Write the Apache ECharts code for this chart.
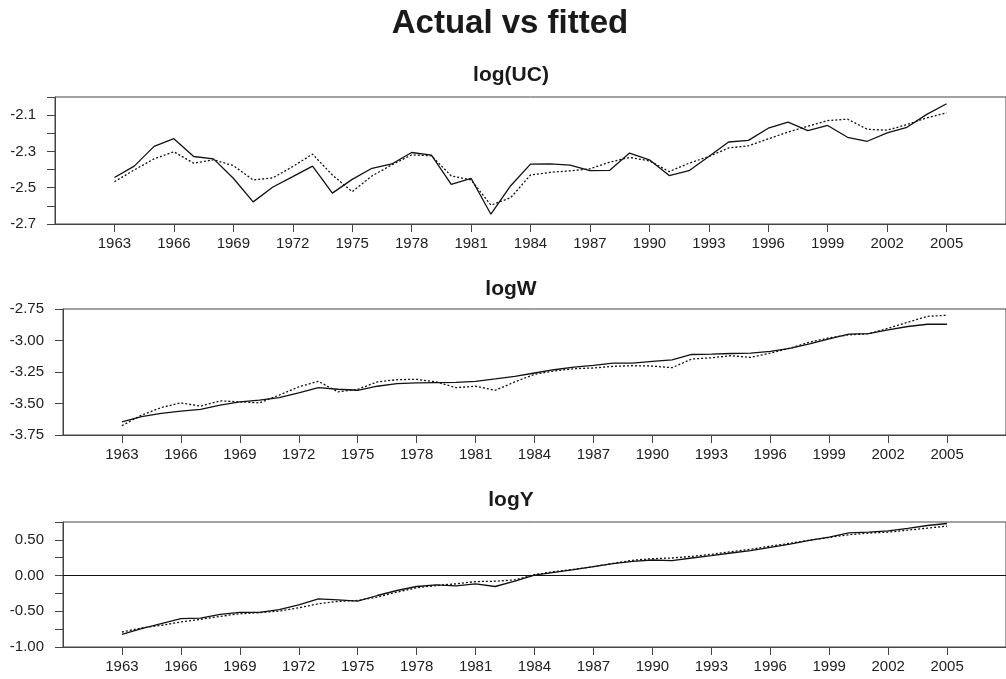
<!DOCTYPE html>
<html>
<head>
<meta charset="utf-8">
<script src="https://cdn.jsdelivr.net/npm/echarts@6/dist/echarts.min.js"></script>
<style>html,body{margin:0;padding:0;background:#fff;}#c{width:1006px;height:679px;}</style>
</head>
<body>
<div id="c"></div>
<script>
var years = [1963,1964,1965,1966,1967,1968,1969,1970,1971,1972,1973,1974,1975,1976,1977,1978,1979,1980,1981,1982,1983,1984,1985,1986,1987,1988,1989,1990,1991,1992,1993,1994,1995,1996,1997,1998,1999,2000,2001,2002,2003,2004,2005];
var xTickYears = [1963,1966,1969,1972,1975,1978,1981,1984,1987,1990,1993,1996,1999,2002,2005];

var ucActual = [-2.444,-2.381,-2.272,-2.230,-2.328,-2.341,-2.448,-2.578,-2.496,-2.439,-2.381,-2.530,-2.454,-2.393,-2.369,-2.306,-2.320,-2.481,-2.448,-2.646,-2.489,-2.370,-2.369,-2.376,-2.406,-2.404,-2.309,-2.346,-2.433,-2.406,-2.328,-2.248,-2.239,-2.172,-2.139,-2.185,-2.157,-2.222,-2.244,-2.198,-2.167,-2.096,-2.037];
var ucFitted = [-2.467,-2.402,-2.341,-2.302,-2.365,-2.346,-2.378,-2.457,-2.446,-2.383,-2.315,-2.430,-2.522,-2.435,-2.374,-2.319,-2.324,-2.435,-2.457,-2.596,-2.555,-2.430,-2.415,-2.407,-2.396,-2.359,-2.333,-2.352,-2.411,-2.365,-2.328,-2.281,-2.269,-2.231,-2.193,-2.161,-2.130,-2.122,-2.178,-2.183,-2.152,-2.115,-2.087];

var wActual = [-3.645,-3.605,-3.579,-3.561,-3.547,-3.513,-3.487,-3.474,-3.453,-3.416,-3.374,-3.387,-3.395,-3.363,-3.342,-3.337,-3.334,-3.332,-3.324,-3.305,-3.284,-3.258,-3.232,-3.211,-3.197,-3.179,-3.179,-3.166,-3.153,-3.111,-3.108,-3.103,-3.100,-3.087,-3.063,-3.026,-2.987,-2.950,-2.945,-2.916,-2.889,-2.871,-2.871];
var wFitted = [-3.676,-3.592,-3.532,-3.495,-3.521,-3.479,-3.487,-3.495,-3.434,-3.368,-3.324,-3.408,-3.387,-3.329,-3.311,-3.308,-3.329,-3.374,-3.363,-3.395,-3.329,-3.268,-3.242,-3.224,-3.218,-3.205,-3.200,-3.203,-3.216,-3.147,-3.137,-3.121,-3.134,-3.100,-3.061,-3.013,-2.979,-2.955,-2.947,-2.903,-2.855,-2.808,-2.800];

var yActual = [-0.822,-0.743,-0.673,-0.604,-0.595,-0.543,-0.516,-0.516,-0.478,-0.409,-0.325,-0.339,-0.358,-0.279,-0.209,-0.153,-0.130,-0.144,-0.116,-0.153,-0.079,0.005,0.046,0.084,0.125,0.167,0.200,0.218,0.209,0.246,0.279,0.316,0.348,0.395,0.441,0.492,0.539,0.599,0.608,0.627,0.660,0.701,0.729];
var yFitted = [-0.790,-0.734,-0.697,-0.650,-0.613,-0.571,-0.534,-0.520,-0.497,-0.451,-0.395,-0.362,-0.348,-0.302,-0.232,-0.172,-0.139,-0.116,-0.084,-0.079,-0.060,0.014,0.056,0.088,0.125,0.172,0.214,0.237,0.246,0.269,0.297,0.334,0.367,0.413,0.451,0.497,0.534,0.571,0.595,0.608,0.636,0.664,0.692];

var ucTicks = [-2.7,-2.6,-2.5,-2.4,-2.3,-2.2,-2.1,-2.0];
var ucLabels = [-2.7,-2.5,-2.3,-2.1];
var wTicks = [-3.75,-3.5,-3.25,-3.0,-2.75];
var wLabels = [-3.75,-3.5,-3.25,-3.0,-2.75];
var yTicks = [-1.0,-0.75,-0.5,-0.25,0,0.25,0.5,0.75];
var yLabels = [-1.0,-0.5,0,0.5];

var panelTitles = ['Actual vs fitted','log(UC)','logW','logY'];

function pairs(arr){ return years.map(function(y,i){ return [y, arr[i]]; }); }

var axisColor = '#444';
var labelStyle = {color:'#222', fontSize:15, fontFamily:'Liberation Sans, Arial, sans-serif'};

var grids = [
  {left:55, top:97, height:127, right:-2},
  {left:63, top:309, height:126, right:-2},
  {left:63, top:522, height:125, right:-2}
];
grids.forEach(function(g){ g.show = true; g.borderColor = axisColor; g.borderWidth = 1; g.backgroundColor = 'transparent'; });

function xAxisFor(i){
  return {
    type:'value', gridIndex:i, min:1960, max:2008, position:'bottom',
    axisLine:{show:true, onZero:false, lineStyle:{color:axisColor, width:1}},
    axisTick:{show:true, customValues:xTickYears, length:8, inside:false, lineStyle:{color:axisColor}},
    axisLabel:Object.assign({show:true, customValues:xTickYears, margin:12, formatter:function(v){return String(v);}}, labelStyle),
    splitLine:{show:false}
  };
}
function yAxisFor(i, mn, mx, ticks, labels, dec){
  return {
    type:'value', gridIndex:i, min:mn, max:mx, position:'left',
    axisLine:{show:true, onZero:false, lineStyle:{color:axisColor, width:1}},
    axisTick:{show:true, customValues:ticks, length:8, lineStyle:{color:axisColor}},
    axisLabel:Object.assign({show:true, customValues:labels, margin:19, formatter:function(v){return Number(v).toFixed(dec);}}, labelStyle),
    splitLine:{show:false}
  };
}

var solid = {color:'#111', width:1.3, type:'solid'};
var dotted = {color:'#111', width:1.3, type:[2,2]};

function mk(name, idx, arr, ls, extra){
  return Object.assign({
    name:name, type:'line', xAxisIndex:idx, yAxisIndex:idx, data:pairs(arr),
    showSymbol:false, symbol:'none', lineStyle:ls, itemStyle:{color:'#111'}, silent:true, z:3
  }, extra||{});
}

var titleFont = 'Liberation Sans, Arial, Helvetica, sans-serif';
var sub = {fontSize:21, fontWeight:'bold', color:'#1a1a1a', fontFamily:titleFont};
var option = {
  animation:false,
  backgroundColor:'#fff',
  title:[
    {text:panelTitles[0], left:510, top:7, textAlign:'center', padding:0, textStyle:{fontSize:33, fontWeight:'bold', color:'#1a1a1a', fontFamily:titleFont}},
    {text:panelTitles[1], left:511, top:65, textAlign:'center', padding:0, textStyle:sub},
    {text:panelTitles[2], left:511, top:279, textAlign:'center', padding:0, textStyle:sub},
    {text:panelTitles[3], left:511, top:490, textAlign:'center', padding:0, textStyle:sub}
  ],
  grid:grids,
  xAxis:[xAxisFor(0), xAxisFor(1), xAxisFor(2)],
  yAxis:[
    yAxisFor(0, -2.7, -2.0, ucTicks, ucLabels, 1),
    yAxisFor(1, -3.75, -2.75, wTicks, wLabels, 2),
    yAxisFor(2, -1.0, 0.75, yTicks, yLabels, 2)
  ],
  series:[
    mk('Actual', 0, ucActual, solid),
    mk('Fitted', 0, ucFitted, dotted),
    mk('Actual', 1, wActual, solid),
    mk('Fitted', 1, wFitted, dotted),
    mk('Actual', 2, yActual, solid, {markLine:{silent:true, symbol:['none','none'], label:{show:false}, lineStyle:{color:'#111', type:'solid', width:1}, data:[{yAxis:0}]}}),
    mk('Fitted', 2, yFitted, dotted)
  ]
};
var chart = echarts.init(document.getElementById('c'), null, {renderer:'canvas'});
chart.setOption(option);
</script>
</body>
</html>
